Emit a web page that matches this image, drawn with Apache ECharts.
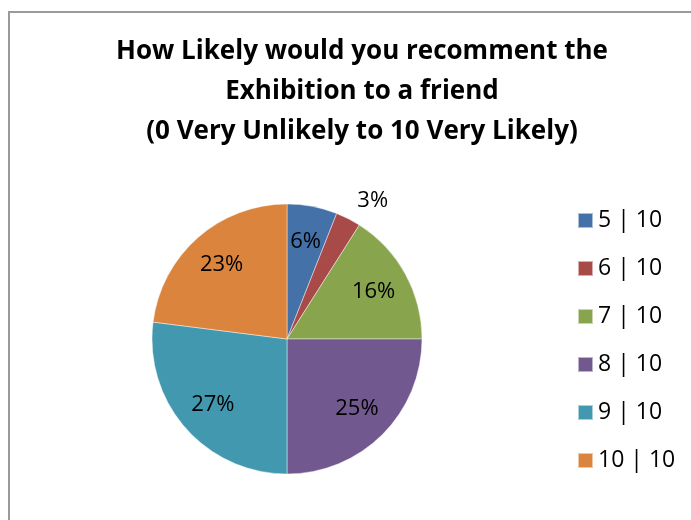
<!DOCTYPE html>
<html>
<head>
<meta charset="utf-8">
<script src="https://cdn.jsdelivr.net/npm/echarts@6/dist/echarts.min.js"></script>
<style>
  html, body { margin: 0; padding: 0; background: #fff; }
  #chart { width: 691px; height: 520px; }
</style>
</head>
<body>
<div id="chart"></div>
<script>
// Recommendation scores and the share of answers for each
const categories = ['5 | 10', '6 | 10', '7 | 10', '8 | 10', '9 | 10', '10 | 10'];
const shares = [6, 3, 16, 25, 27, 23];
const sliceColors = ['#4371A8', '#A84A47', '#88A54E', '#71588F', '#4198AF', '#DB843D'];
const titleLines = [
  'How Likely would you recomment the',
  'Exhibition to a friend',
  '(0 Very Unlikely to 10 Very Likely)'
];
// Slices whose percentage sits outside the pie
const outsideLabels = ['6 | 10'];

const FONT = '"Open Sans", "Liberation Sans", sans-serif';
const center = [287, 339];
const pieRadius = 135;

const chart = echarts.init(document.getElementById('chart'), null, { renderer: 'canvas' });

const pctText = p => Math.round(p.percent) + '%';

const sliceData = categories.map((name, i) => {
  const item = { name, value: shares[i], itemStyle: { color: sliceColors[i] } };
  if (outsideLabels.includes(name)) {
    item.label = { show: true, position: 'outside', distanceToLabelLine: 0 };
    item.labelLine = { show: false, length: 20, length2: 0 };
  }
  return item;
});

// Second, invisible ring that only carries the inner labels further out from the centre
const labelData = categories.map((name, i) => ({
  name,
  value: shares[i],
  label: { show: !outsideLabels.includes(name) }
}));

chart.setOption({
  animation: false,
  backgroundColor: '#fff',
  title: {
    text: titleLines.join('\n'),
    left: 357,
    top: 27,
    textAlign: 'center',
    textStyle: {
      fontFamily: FONT,
      fontWeight: 'bold',
      fontSize: 26,
      lineHeight: 40,
      color: '#000'
    }
  },
  legend: {
    orient: 'vertical',
    left: 572,
    top: 204,
    icon: 'rect',
    itemWidth: 15,
    itemHeight: 15,
    itemGap: 25,
    selectedMode: false,
    data: categories,
    textStyle: { fontFamily: FONT, fontSize: 23, lineHeight: 23, color: '#000' }
  },
  graphic: [{
    type: 'rect',
    shape: { x: 9, y: 12, width: 800, height: 600 },
    style: { fill: 'none', stroke: '#9a9a9a', lineWidth: 2 },
    silent: true,
    z: -1
  }],
  series: [
    {
      type: 'pie',
      center: center,
      radius: pieRadius,
      startAngle: 90,
      clockwise: true,
      avoidLabelOverlap: false,
      data: sliceData,
      itemStyle: { borderColor: 'rgba(255,255,255,0.55)', borderWidth: 0.8 },
      label: {
        show: false,
        formatter: pctText,
        fontFamily: FONT,
        fontSize: 22,
        color: '#000'
      },
      labelLine: { show: false },
      emphasis: { disabled: true }
    },
    {
      type: 'pie',
      center: center,
      radius: [0, pieRadius * 1.42],
      startAngle: 90,
      clockwise: true,
      silent: true,
      avoidLabelOverlap: false,
      data: labelData,
      itemStyle: { color: 'rgba(0,0,0,0)' },
      label: {
        position: 'inside',
        formatter: pctText,
        fontFamily: FONT,
        fontSize: 22,
        color: '#000'
      },
      labelLine: { show: false },
      emphasis: { disabled: true }
    }
  ]
});
</script>
</body>
</html>
